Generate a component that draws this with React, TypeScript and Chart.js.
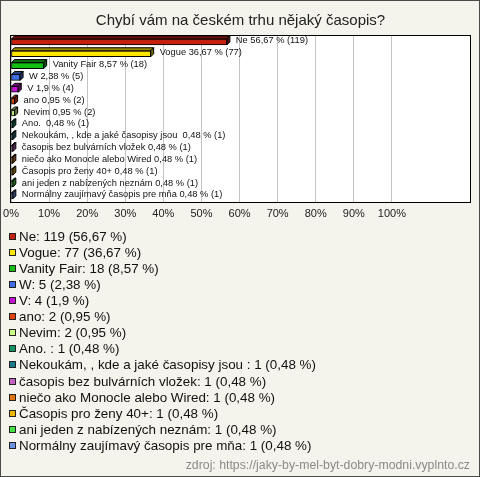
import React, { useEffect, useRef } from "react";
import { Chart, registerables } from "chart.js";

Chart.register(...registerables);

const FONT = "'Liberation Sans', Arial, sans-serif";

const titleText = "Chybí vám na českém trhu nějaký časopis?";
const sourceText = "zdroj: https://jaky-by-mel-byt-dobry-modni.vyplnto.cz";

const categories = [
  "Ne",
  "Vogue",
  "Vanity Fair",
  "W",
  "V",
  "ano",
  "Nevim",
  "Ano. ",
  "Nekoukám, , kde a jaké časopisy jsou ",
  "časopis bez bulvárních vložek",
  "niečo ako Monocle alebo Wired",
  "Časopis pro ženy 40+",
  "ani jeden z nabízených neznám",
  "Normálny zaujímavý časopis pre mňa",
];

const counts = [119, 77, 18, 5, 4, 2, 2, 1, 1, 1, 1, 1, 1, 1];

const percents = [56.67, 36.67, 8.57, 2.38, 1.9, 0.95, 0.95, 0.48, 0.48, 0.48, 0.48, 0.48, 0.48, 0.48];

const colors = [
  "#c4200e",
  "#ffe600",
  "#12c012",
  "#3f6fe6",
  "#c412d4",
  "#e2420e",
  "#ccff88",
  "#129462",
  "#1a7a8c",
  "#c462c4",
  "#e27410",
  "#f0b800",
  "#44e244",
  "#6a94e2",
];

const xTickValues = [0, 10, 20, 30, 40, 50, 60, 70, 80, 90, 100];

const fmt = (p: number) => String(p).replace(".", ",");

function shade(hex: string, f: number) {
  const n = parseInt(hex.slice(1), 16);
  const r = Math.round(((n >> 16) & 255) * f);
  const g = Math.round(((n >> 8) & 255) * f);
  const b = Math.round((n & 255) * f);
  return `rgb(${r},${g},${b})`;
}

const decorPlugin = {
  id: "decor",
  beforeDraw(chart: any) {
    const { ctx, chartArea: a } = chart;
    ctx.save();
    ctx.fillStyle = "#ffffff";
    ctx.fillRect(a.left, a.top, a.right - a.left, a.bottom - a.top);
    ctx.restore();
  },
  afterDatasetsDraw(chart: any) {
    const { ctx } = chart;
    const meta = chart.getDatasetMeta(0);
    const d = 3;
    ctx.save();
    ctx.lineWidth = 1;
    ctx.strokeStyle = "#000";
    meta.data.forEach((bar: any, i: number) => {
      const { x, y, base, height } = bar.getProps(["x", "y", "base", "height"], true);
      const top = y - height / 2;
      const bottom = y + height / 2;
      // top face
      ctx.beginPath();
      ctx.moveTo(base, top);
      ctx.lineTo(base + d, top - d);
      ctx.lineTo(x + d, top - d);
      ctx.lineTo(x, top);
      ctx.closePath();
      ctx.fillStyle = shade(colors[i], 0.6);
      ctx.fill();
      ctx.stroke();
      // right face
      ctx.beginPath();
      ctx.moveTo(x, top);
      ctx.lineTo(x + d, top - d);
      ctx.lineTo(x + d, bottom - d);
      ctx.lineTo(x, bottom);
      ctx.closePath();
      ctx.fillStyle = shade(colors[i], 0.45);
      ctx.fill();
      ctx.stroke();
      // label
      ctx.fillStyle = "#111";
      ctx.font = `9.3px ${FONT}`;
      ctx.textAlign = "left";
      ctx.textBaseline = "middle";
      ctx.fillText(`${categories[i]} ${fmt(percents[i])} % (${counts[i]})`, x + 9, y - 1);
    });
    ctx.restore();
  },
  afterDraw(chart: any) {
    const { ctx, chartArea: a } = chart;
    ctx.save();
    // plot border
    ctx.strokeStyle = "#000";
    ctx.lineWidth = 1;
    ctx.strokeRect(Math.round(a.left) - 0.5, Math.round(a.top) - 0.5, Math.round(a.right - a.left) + 1, Math.round(a.bottom - a.top) + 1);
    // legend
    ctx.font = `13.4px ${FONT}`;
    ctx.textAlign = "left";
    ctx.textBaseline = "middle";
    const y0 = a.bottom + 35;
    const step = 16.08;
    categories.forEach((c, i) => {
      const cy = Math.round(y0 + i * step);
      ctx.fillStyle = colors[i];
      ctx.fillRect(8, cy - 4, 7, 7);
      ctx.strokeStyle = "#222";
      ctx.strokeRect(8.5, cy - 3.5, 6, 6);
      ctx.fillStyle = "#111";
      ctx.fillText(`${c}: ${counts[i]} (${fmt(percents[i])} %)`, 18, cy);
    });
    // source
    ctx.font = `12.3px ${FONT}`;
    ctx.fillStyle = "#8a8a8a";
    ctx.textAlign = "right";
    ctx.fillText(sourceText, 469, 465);
    ctx.restore();
  },
};

export default function App() {
  const ref = useRef<HTMLCanvasElement>(null);
  useEffect(() => {
    if (!ref.current) return;
    const chart = new Chart(ref.current, {
      type: "bar",
      data: {
        labels: categories,
        datasets: [
          {
            data: percents,
            backgroundColor: colors,
            borderColor: "#000",
            borderWidth: 1,
            borderSkipped: false,
            barThickness: 6,
          },
        ],
      },
      options: {
        indexAxis: "y",
        responsive: false,
        animation: false,
        layout: { padding: { left: 10, right: 9, top: 0, bottom: 249 } },
        plugins: {
          legend: { display: false },
          tooltip: { enabled: false },
          title: {
            display: true,
            text: titleText,
            color: "#222",
            font: { size: 15, family: FONT, weight: "normal" },
            padding: { top: 11, bottom: 6 },
          },
        },
        scales: {
          x: {
            min: 0,
            max: 120.5,
            afterBuildTicks: (s: any) => {
              s.ticks = xTickValues.map((v) => ({ value: v }));
            },
            afterFit: (s: any) => {
              s.paddingLeft = 0;
              s.paddingRight = 0;
            },
            ticks: {
              callback: (v: any) => `${v}%`,
              color: "#222",
              font: { size: 11, family: FONT },
              padding: 6,
              maxRotation: 0,
              autoSkip: false,
            },
            grid: { color: "#c4c4c4", drawTicks: false },
            border: { display: false },
          },
          y: { display: false },
        },
      },
      plugins: [decorPlugin],
    } as any);
    return () => chart.destroy();
  }, []);
  return (
    <div
      style={{
        position: "absolute",
        left: 0,
        top: 0,
        width: 478,
        height: 475,
        border: "1px solid #4a4a4a",
        background: "#f4f3ec",
      }}
    >
      <canvas ref={ref} width={478} height={475} style={{ display: "block", width: 478, height: 475 }} />
    </div>
  );
}
